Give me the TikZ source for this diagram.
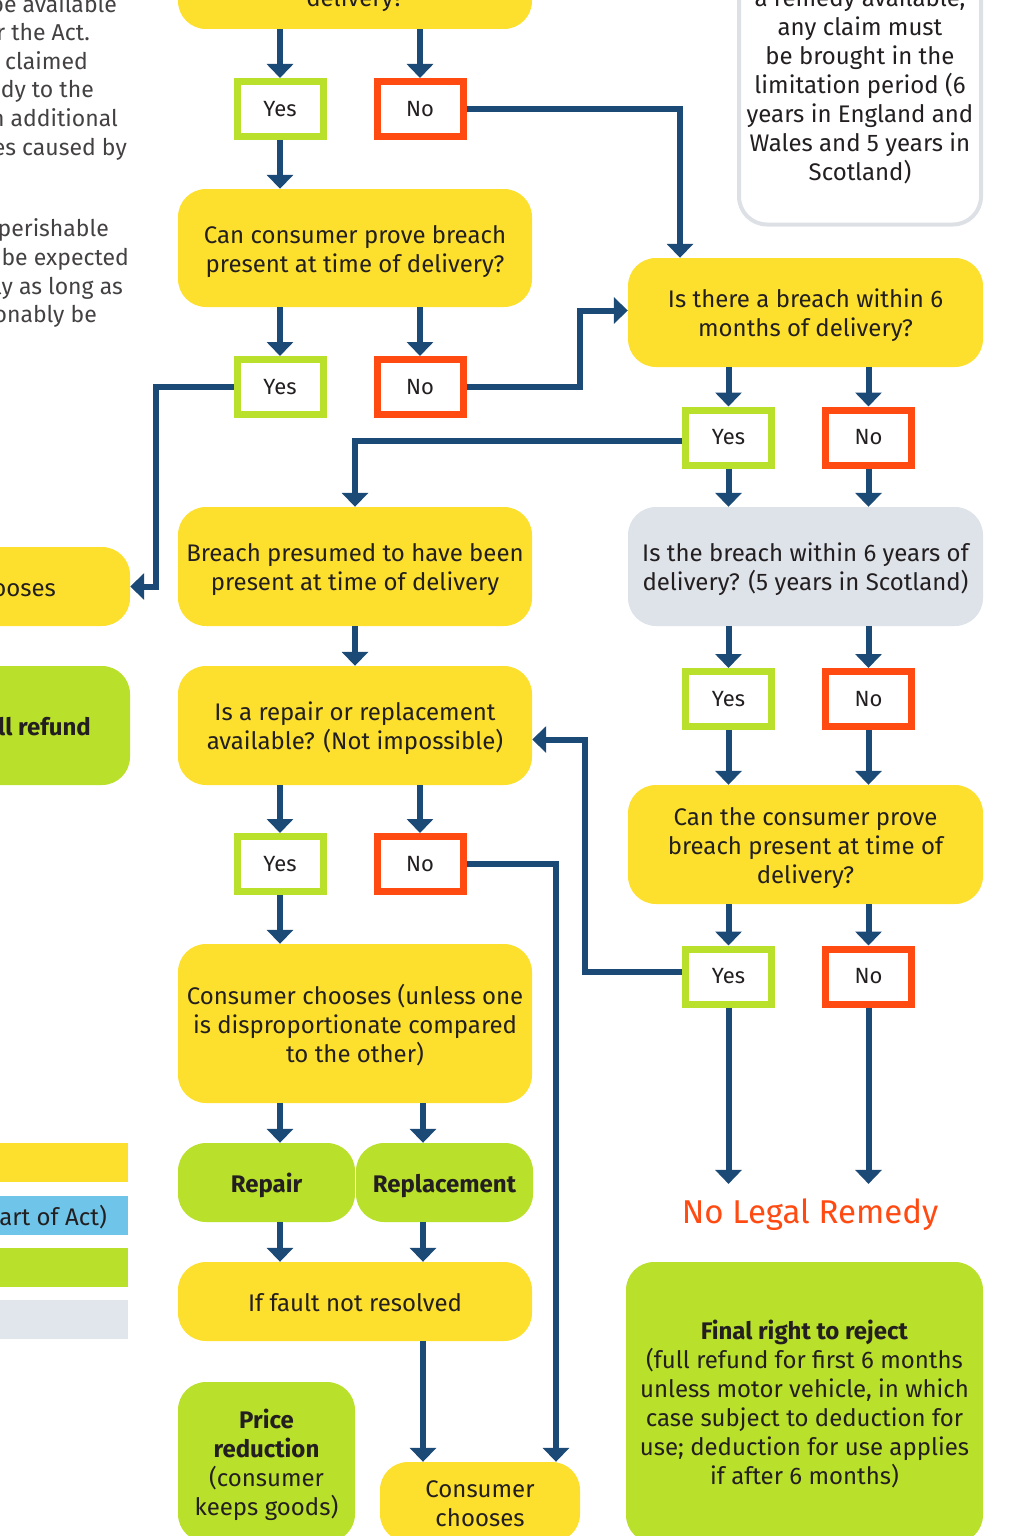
\documentclass[tikz,border=0pt]{standalone}
\usepackage{fontspec}
\setmainfont{Fira Sans}
\usetikzlibrary{arrows.meta,calc}
\definecolor{ylw}{HTML}{FDE02D}
\definecolor{grn}{HTML}{B9E02A}
\definecolor{nored}{HTML}{FF4A12}
\definecolor{navy}{HTML}{1B4A77}
\definecolor{gbox}{HTML}{DEE2E9}
\definecolor{lgray}{HTML}{E1E5EC}
\definecolor{lblue}{HTML}{6EC5E9}
\definecolor{bord}{HTML}{DDE1E6}
\definecolor{txt}{HTML}{231F20}
\newcommand\myfirst{\rule{0pt}{28.5pt}}
\begin{document}
\begin{tikzpicture}[x=1pt,y=-1pt,
  base/.style={rounded corners=28pt, align=center, inner sep=0pt, text=txt,
    font=\fontsize{24}{29}\selectfont},
  ybox/.style={base, fill=ylw},
  gnbox/.style={base, fill=grn},
  gybox/.style={base, fill=gbox},
  yesbox/.style={draw=grn, line width=7pt, fill=white, minimum width=86pt, minimum height=55pt,
    inner sep=0pt, text=txt, font=\fontsize{22}{26}\selectfont},
  nobox/.style={yesbox, draw=nored},
  arr/.style={draw=navy, line width=6pt, -{Triangle[width=26pt,length=14pt]}},
  side/.style={text=txt!85, font=\fontsize{23}{28.7}\selectfont, inner sep=0pt},
  leg/.style={inner sep=0pt, minimum height=39pt, minimum width=138pt}
]
\useasboundingbox (0,0) rectangle (1024,1536);
\clip (0,0) rectangle (1024,1536);

% left side text fragments
\node[side, anchor=base east] (s1) at (117,13) {be available};
\node[side, anchor=base east] (s2) at (90,41) {r the Act.};
\node[side, anchor=base east] (s3) at (88,70) {claimed};
\node[side, anchor=base east] (s4) at (94,98) {dy to the};
\node[side, anchor=base east] (s5) at (118,127) {n additional};
\node[side, anchor=base east] (s6) at (127,155) {es caused by};
\node[side, anchor=base east] (s7) at (109,236) {perishable};
\node[side, anchor=base east] (s8) at (129,265) {be expected};
\node[side, anchor=base east] (s9) at (123,294) {ly as long as};
\node[side, anchor=base east] (s10) at (97,322) {onably be};

% top boxes
\node[ybox, minimum width=354pt, minimum height=138pt] (q0) at (355,-40) {};
\node[text=txt, font=\fontsize{24}{29}\selectfont, inner sep=0pt, anchor=base] (q0t) at (355,7) {delivery?};

\node[base, draw=bord, line width=4pt, fill=white, minimum width=242pt, minimum height=281pt] (tr) at (860,84)
  {\myfirst a remedy available,\\any claim must\\be brought in the\\limitation period (6\\years in England and\\Wales and 5 years in\\Scotland)\strut};

\node[ybox, minimum width=354pt, minimum height=118pt] (q1) at (355,248) {\myfirst Can consumer prove breach\\present at time of delivery?\strut};
\node[ybox, minimum width=355pt, minimum height=109pt] (q2) at (805.5,312.5) {\myfirst Is there a breach within 6\\months of delivery?\strut};
\node[ybox, minimum width=354pt, minimum height=119pt] (q3) at (355,566.5) {\myfirst Breach presumed to have been\\present at time of delivery\strut};
\node[gybox, minimum width=355pt, minimum height=119pt] (g1) at (805.5,566.5) {\myfirst Is the breach within 6 years of\\delivery? (5 years in Scotland)\strut};
\node[ybox, minimum width=354pt, minimum height=119pt] (q4) at (355,725.5) {\myfirst Is a repair or replacement\\available? (Not impossible)\strut};
\node[ybox, minimum width=355pt, minimum height=119pt] (q5) at (805.5,844.5) {\myfirst Can the consumer prove\\breach present at time of\\delivery?\strut};
\node[ybox, minimum width=354pt, minimum height=159pt] (q6) at (355,1023.5) {\myfirst Consumer chooses (unless one\\is disproportionate compared\\to the other)\strut};
\node[gnbox, minimum width=177pt, minimum height=79pt, font=\fontsize{24}{29}\selectfont\bfseries] (rep) at (266.5,1182.5) {\myfirst Repair\strut};
\node[gnbox, minimum width=177pt, minimum height=79pt, font=\fontsize{24}{29}\selectfont\bfseries] (rpl) at (444.5,1182.5) {\myfirst Replacement\strut};
\node[ybox, minimum width=354pt, minimum height=79pt] (iff) at (355,1301.5) {\myfirst If fault not resolved\strut};
\node[gnbox, minimum width=177pt, minimum height=160pt] (price) at (266.5,1462) {\myfirst\textbf{Price}\\\textbf{reduction}\\(consumer\\keeps goods)\strut};
\node[ybox, minimum width=200pt, minimum height=80pt] (cc) at (480,1502) {\myfirst Consumer\\chooses\strut};
\node[gnbox, minimum width=357pt, minimum height=281pt] (fin) at (804.5,1402.5) {\myfirst\textbf{Final right to reject}\\(full refund for first 6 months\\unless motor vehicle, in which\\case subject to deduction for\\use; deduction for use applies\\if after 6 months)\strut};

% left cut boxes
\node[ybox, minimum width=230pt, minimum height=79pt] (L1) at (15,586.5) {};
\node[text=txt, font=\fontsize{24}{29}\selectfont, inner sep=0pt, anchor=base east] (L1t) at (56,596) {ooses};
\node[gnbox, minimum width=230pt, minimum height=119pt] (L2) at (15,725.5) {};
\node[text=txt, font=\fontsize{24}{29}\selectfont\bfseries, inner sep=0pt, anchor=base east] (L2t) at (91,735) {ll refund};

% legend
\node[leg, fill=ylw] (lg1) at (59,1162.5) {};
\node[leg, fill=lblue] (lg2) at (59,1215.5) {};
\node[text=txt, font=\fontsize{24}{29}\selectfont, inner sep=0pt, anchor=base east] (lg2t) at (107,1225) {art of Act)};
\node[leg, fill=grn] (lg3) at (59,1267.5) {};
\node[leg, fill=lgray] (lg4) at (59,1319.5) {};

% yes/no boxes
\node[yesbox] (y1) at (280,109) {Yes};
\node[nobox] (n1) at (420,109) {No};
\node[yesbox] (y2) at (280,387) {Yes};
\node[nobox] (n2) at (420,387) {No};
\node[yesbox] (y3) at (728.5,437.5) {Yes};
\node[nobox] (n3) at (868.5,437.5) {No};
\node[yesbox] (y4) at (728.5,699) {Yes};
\node[nobox] (n4) at (868.5,699) {No};
\node[yesbox] (y5) at (728.5,976.5) {Yes};
\node[nobox] (n5) at (868.5,976.5) {No};
\node[yesbox] (y6) at (280,864) {Yes};
\node[nobox] (n6) at (420,864) {No};

\node[text=nored, font=\fontsize{33}{36}\selectfont, inner sep=15pt] (nlr) at (810,1215) {No Legal Remedy};

% connectors
\draw[arr] (y1 |- q0.south) -- (y1.north);
\draw[arr] (n1 |- q0.south) -- (n1.north);
\draw[arr] (y1.south) -- (y1 |- q1.north);
\draw[arr] (n1.east) -| ($(q2.north)+(-125.5,0)$);
\draw[arr] (y2 |- q1.south) -- (y2.north);
\draw[arr] (n2 |- q1.south) -- (n2.north);
\draw[arr] (y2.west) -- ++(-78,0) |- (L1.east);
\draw[arr] (n2.east) -- ++(113,0) |- ($(q2.west)+(0,-2)$);
\draw[arr] (y3 |- q2.south) -- (y3.north);
\draw[arr] (n3 |- q2.south) -- (n3.north);
\draw[arr] ($(y3.west)+(0,3)$) -| (q3.north);
\draw[arr] (y3.south) -- (y3 |- g1.north);
\draw[arr] (n3.south) -- (n3 |- g1.north);
\draw[arr] (y4 |- g1.south) -- (y4.north);
\draw[arr] (n4 |- g1.south) -- (n4.north);
\draw[arr] (y4.south) -- (y4 |- q5.north);
\draw[arr] (n4.south) -- (n4 |- q5.north);
\draw[arr] (y5 |- q5.south) -- (y5.north);
\draw[arr] (n5 |- q5.south) -- (n5.north);
\draw[arr] ($(y5.west)+(0,-5)$) -- ++(-97,0) |- ($(q4.east)+(0,14)$);
\draw[arr] (y5.south) -- (y5 |- nlr.north);
\draw[arr] (n5.south) -- (n5 |- nlr.north);
\draw[arr] (q3.south) -- (q4.north);
\draw[arr] (y6 |- q4.south) -- (y6.north);
\draw[arr] (n6 |- q4.south) -- (n6.north);
\draw[arr] (y6.south) -- (y6 |- q6.north);
\draw[arr] (n6.east) -| ($(cc.north)+(76,0)$);
\draw[arr] (y6 |- q6.south) -- (y6 |- rep.north);
\draw[arr] ($(q6.south)+(68,0)$) -- ($(rpl.north)+(-21.5,0)$);
\draw[arr] (y6 |- rep.south) -- (y6 |- iff.north);
\draw[arr] ($(rpl.south)+(-21.5,0)$) -- ($(iff.north)+(68,0)$);
\draw[arr] ($(iff.south)+(68,0)$) -- ($(cc.north)+(-57,0)$);
\end{tikzpicture}
\end{document}
